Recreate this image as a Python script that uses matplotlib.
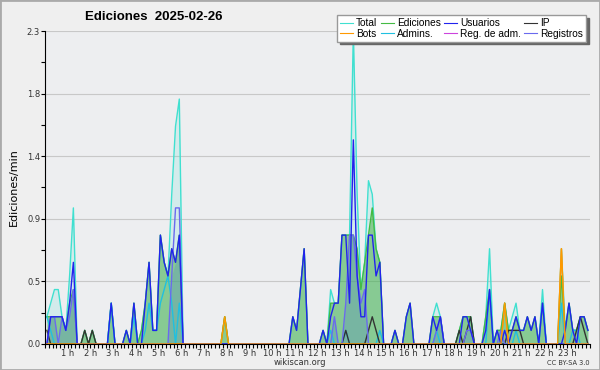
import numpy as np
import matplotlib
matplotlib.use('Agg')
import matplotlib.pyplot as plt
from matplotlib.patches import Rectangle

# edits per minute, 10-minute bins (144 per day), one row = 2 hours
total = [0.2, 0.3, 0.4, 0.4, 0.2, 0.1, 0.5, 1.0, 0, 0, 0.1, 0,
         0.1, 0, 0, 0, 0, 0.3, 0, 0, 0, 0.1, 0, 0.3,
         0, 0.1, 0.3, 0.6, 0.1, 0.1, 0.8, 0.6, 0.5, 1.1, 1.6, 1.8,
         0, 0, 0, 0, 0, 0, 0, 0, 0, 0, 0, 0.2,
         0, 0, 0, 0, 0, 0, 0, 0, 0, 0, 0, 0,
         0, 0, 0, 0, 0, 0.2, 0.1, 0.4, 0.7, 0, 0, 0,
         0, 0.1, 0, 0.4, 0.3, 0.3, 0.8, 0.8, 0.8, 2.3, 1.1, 0.4,
         0.6, 1.2, 1.1, 0.7, 0.6, 0, 0, 0, 0.1, 0, 0, 0.2,
         0.3, 0, 0, 0, 0, 0, 0.2, 0.3, 0.2, 0, 0, 0,
         0, 0.1, 0.2, 0.2, 0.2, 0, 0, 0, 0.2, 0.7, 0, 0.1,
         0.1, 0.3, 0.1, 0.2, 0.3, 0.1, 0.1, 0.2, 0.1, 0.2, 0, 0.4,
         0, 0, 0, 0, 0.7, 0.1, 0.3, 0.1, 0.1, 0.2, 0.2, 0.1]
ediciones = [0.2, 0.2, 0.2, 0.2, 0.2, 0.1, 0.3, 0.4, 0, 0, 0.1, 0,
             0.1, 0, 0, 0, 0, 0.3, 0, 0, 0, 0.1, 0, 0.3,
             0, 0.1, 0.3, 0.6, 0.1, 0.1, 0.8, 0.6, 0.5, 0.7, 0.6, 0.8,
             0, 0, 0, 0, 0, 0, 0, 0, 0, 0, 0, 0.2,
             0, 0, 0, 0, 0, 0, 0, 0, 0, 0, 0, 0,
             0, 0, 0, 0, 0, 0.2, 0.1, 0.4, 0.7, 0, 0, 0,
             0, 0.1, 0, 0.3, 0.3, 0.3, 0.8, 0.8, 0.8, 0.8, 0.7, 0.4,
             0.6, 0.8, 1.0, 0.7, 0.6, 0, 0, 0, 0.1, 0, 0, 0.2,
             0.3, 0, 0, 0, 0, 0, 0.2, 0.2, 0.2, 0, 0, 0,
             0, 0.1, 0.2, 0.2, 0.2, 0, 0, 0, 0.2, 0.4, 0, 0.1,
             0.1, 0.3, 0.1, 0.1, 0.2, 0.1, 0.1, 0.2, 0.1, 0.2, 0, 0.3,
             0, 0, 0, 0, 0.5, 0.1, 0.3, 0.1, 0.1, 0.2, 0.2, 0.1]
usuarios = [0, 0.2, 0.2, 0.2, 0.2, 0.1, 0.3, 0.6, 0, 0, 0, 0,
            0, 0, 0, 0, 0, 0.3, 0, 0, 0, 0.1, 0, 0.3,
            0, 0, 0.3, 0.6, 0.1, 0.1, 0.8, 0.6, 0.5, 0.7, 0.6, 0.8,
            0, 0, 0, 0, 0, 0, 0, 0, 0, 0, 0, 0,
            0, 0, 0, 0, 0, 0, 0, 0, 0, 0, 0, 0,
            0, 0, 0, 0, 0, 0.2, 0.1, 0.4, 0.7, 0, 0, 0,
            0, 0.1, 0, 0.2, 0.3, 0.3, 0.8, 0.8, 0.3, 1.5, 0.5, 0.2,
            0.2, 0.8, 0.8, 0.5, 0.6, 0, 0, 0, 0.1, 0, 0, 0.2,
            0.3, 0, 0, 0, 0, 0, 0.2, 0.1, 0.2, 0, 0, 0,
            0, 0, 0.2, 0.2, 0.1, 0, 0, 0, 0.1, 0.4, 0, 0.1,
            0, 0.1, 0, 0.1, 0.2, 0.1, 0.1, 0.2, 0.1, 0.2, 0, 0.3,
            0, 0, 0, 0, 0, 0.1, 0.3, 0.1, 0, 0.2, 0.2, 0.1]
ip = [0.1, 0, 0, 0, 0, 0, 0, 0, 0, 0, 0.1, 0,
      0.1, 0, 0, 0, 0, 0, 0, 0, 0, 0, 0, 0,
      0, 0, 0, 0, 0, 0, 0, 0, 0, 0, 0, 0,
      0, 0, 0, 0, 0, 0, 0, 0, 0, 0, 0, 0,
      0, 0, 0, 0, 0, 0, 0, 0, 0, 0, 0, 0,
      0, 0, 0, 0, 0, 0, 0, 0, 0, 0, 0, 0,
      0, 0, 0, 0, 0, 0, 0, 0.1, 0, 0, 0, 0,
      0, 0.1, 0.2, 0.1, 0, 0, 0, 0, 0, 0, 0, 0,
      0, 0, 0, 0, 0, 0, 0, 0, 0, 0, 0, 0,
      0, 0.1, 0, 0.1, 0.2, 0, 0, 0, 0, 0, 0, 0,
      0, 0, 0.1, 0.1, 0.1, 0.1, 0, 0, 0, 0, 0, 0,
      0, 0, 0, 0, 0, 0, 0, 0, 0.1, 0.2, 0.1, 0]
bots = [0] * 144
for i, v in [(47, 0.2), (121, 0.3), (136, 0.7)]:
    bots[i] = v
admins = [0.2, 0.1, 0, 0, 0, 0, 0, 0, 0, 0, 0, 0,
          0, 0, 0, 0, 0, 0.3, 0, 0, 0, 0, 0, 0.2,
          0, 0, 0.1, 0.3, 0.1, 0.1, 0.3, 0.4, 0.5, 0.3, 0, 0.3,
          0, 0, 0, 0, 0, 0, 0, 0, 0, 0, 0, 0,
          0, 0, 0, 0, 0, 0, 0, 0, 0, 0, 0, 0,
          0, 0, 0, 0, 0, 0, 0, 0, 0, 0, 0, 0,
          0, 0, 0, 0.1, 0, 0, 0, 0.1, 0, 0, 0, 0,
          0, 0, 0, 0, 0.1, 0, 0, 0, 0, 0, 0, 0,
          0, 0, 0, 0, 0, 0, 0, 0.1, 0, 0, 0, 0,
          0, 0, 0, 0, 0, 0, 0, 0, 0, 0.4, 0, 0,
          0, 0, 0, 0, 0.1, 0, 0, 0, 0, 0, 0, 0.3,
          0, 0, 0, 0, 0.3, 0, 0, 0.1, 0.1, 0, 0, 0]
reg_adm = [0] * 144
registros = [0, 0.2, 0.2, 0, 0.2, 0.1, 0.2, 0.4, 0, 0, 0, 0,
             0, 0, 0, 0, 0, 0, 0, 0, 0, 0, 0, 0,
             0, 0, 0, 0, 0, 0, 0, 0, 0, 0.5, 1.0, 1.0,
             0, 0, 0, 0, 0, 0, 0, 0, 0, 0, 0, 0,
             0, 0, 0, 0, 0, 0, 0, 0, 0, 0, 0, 0,
             0, 0, 0, 0, 0, 0, 0, 0, 0, 0, 0, 0,
             0, 0, 0, 0, 0.2, 0, 0, 0.3, 0.8, 0.8, 0.5, 0.3,
             0.4, 0, 0, 0, 0, 0, 0, 0, 0, 0, 0, 0,
             0, 0, 0, 0, 0, 0, 0, 0.1, 0.2, 0, 0, 0,
             0, 0, 0, 0.1, 0.1, 0, 0, 0, 0, 0, 0, 0,
             0.1, 0, 0, 0, 0, 0, 0, 0, 0, 0, 0, 0,
             0, 0, 0, 0, 0, 0, 0, 0, 0, 0, 0, 0]

hour_labels = ['%d h' % h for h in range(1, 24)]

t = (np.arange(144) + 0.5) / 6.0
total = np.array(total)
ediciones = np.array(ediciones)
registros = np.array(registros)

fig = plt.figure(figsize=(6, 3.7), dpi=100, facecolor='#efefef')
ax = fig.add_axes([0.075, 0.0703, 0.908, 0.8459], facecolor='#edeef0')

ax.fill_between(t, 0, total, color='#40e0d0', alpha=0.15, lw=0)
ax.fill_between(t, 0, ediciones, color='#3daa3d', alpha=0.5, lw=0)
ax.fill_between(t, 0, np.minimum(registros, ediciones), color='#5a8fc0', alpha=0.35, lw=0)

lw = 1.0
ax.plot(t, total, color='#40e0d0', lw=lw, label='Total')
ax.plot(t, bots, color='#ff9900', lw=lw, label='Bots')
ax.plot(t, ediciones, color='#44bb44', lw=lw, label='Ediciones')
ax.plot(t, admins, color='#20c0e0', lw=lw, label='Admins.')
ax.plot(t, usuarios, color='#2222ee', lw=lw, label='Usuarios', zorder=3)
ax.plot(t, reg_adm, color='#cc44dd', lw=lw, label='Reg. de adm.')
ax.plot(t, ip, color='#333333', lw=lw, label='IP')
ax.plot(t, registros, color='#6a6aee', lw=lw, label='Registros')
ax.plot(t, bots, color='#ff9900', lw=lw, zorder=4)

ax.set_xlim(0, 24)
ax.set_ylim(0, 2.3)
yt = np.linspace(0, 2.3, 6)
ax.set_yticks(yt)
ax.set_yticklabels(['%.1f' % v for v in yt])
ax.set_yticks((yt[:-1] + yt[1:]) / 2, minor=True)
ax.set_xticks(np.arange(1, 24))
ax.set_xticklabels(hour_labels)
ax.set_xticks(np.arange(0, 145) / 6.0, minor=True)
ax.tick_params(which='both', direction='out', length=3, width=0.8, labelsize=6,
               labelcolor='#333333', pad=0.5)
ax.grid(axis='y', color='#c8c8c8', lw=0.8)
ax.set_axisbelow(True)
for s in ['top', 'right']:
    ax.spines[s].set_visible(False)
ax.set_ylabel('Ediciones/min', fontsize=8, labelpad=6)

fig.text(0.142, 0.953, 'Ediciones  2025-02-26', fontsize=9.5, fontweight='bold',
         family='Liberation Sans', ha='left', va='center')
fig.text(0.5, 0.019, 'wikiscan.org', fontsize=6, ha='center', va='center', color='#333333')
fig.text(0.983, 0.019, 'CC BY-SA 3.0', fontsize=4.8, ha='right', va='center', color='#333333')

leg = ax.legend(loc='upper right', bbox_to_anchor=(591 / 600, 1 - 10 / 370),
                bbox_transform=fig.transFigure, ncol=4,
                prop={'family': 'Liberation Sans', 'size': 7.3},
                handlelength=1.3, handletextpad=0.3, columnspacing=0.3,
                labelspacing=0.05, borderpad=0.3, fancybox=False,
                edgecolor='#999999', framealpha=1,
                shadow={'color': '#666666', 'alpha': 1})
for line in leg.get_lines():
    line.set_linewidth(0.8)

fig.patches.append(Rectangle((0, 0), 1, 1, transform=fig.transFigure, fill=False,
                             edgecolor='#aaaaaa', lw=2))

fig.savefig('out.png', dpi=100, facecolor=fig.get_facecolor())
